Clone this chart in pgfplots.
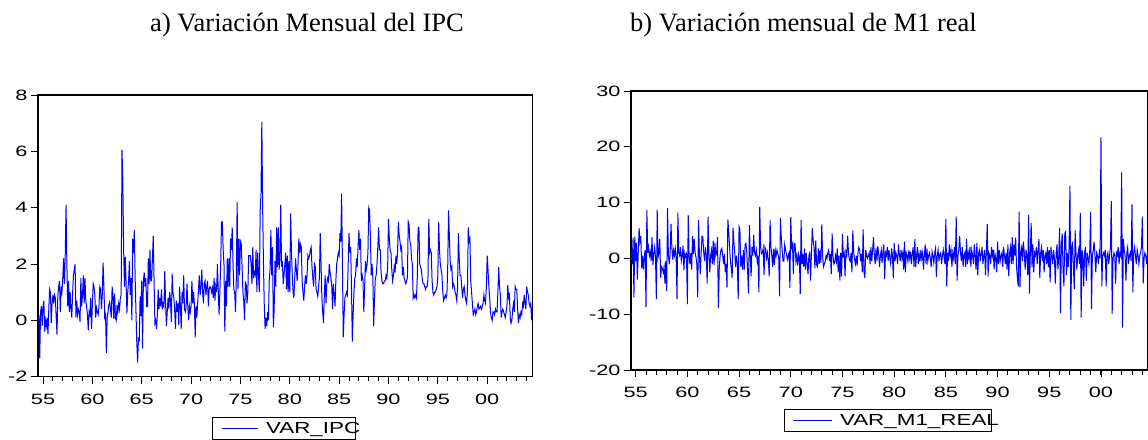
\documentclass[border=0pt]{standalone}
\usepackage{graphicx}
\usepackage{fontspec}
\setmainfont{Liberation Serif}
\newfontfamily\arial{Liberation Sans}
\usepackage{pgfplots}
\usepackage{pgfplotstable}
\pgfplotsset{compat=1.18}

% EViews graphs are stretched sideways in the source document
\newcommand\sx[1]{\scalebox{1.45}[1]{#1}}
\newcommand\sxl[1]{\scalebox{1.4}[1]{#1}}

\pgfplotsset{
  eviews/.style={
    scale only axis, anchor=south west,
    axis line style={black, line width=1.1pt},
    tick align=outside, xtick pos=left, ytick pos=left,
    tick style={black, line width=0.9pt},
    major tick length=7pt, minor tick length=4.5pt,
    xtick={1955,1960,...,2000},
    xticklabels={\sx{55},\sx{60},\sx{65},\sx{70},\sx{75},\sx{80},\sx{85},\sx{90},\sx{95},\sx{00}},
    minor xtick={1955,...,2004},
    xticklabel shift=6.7pt,
    tick label style={font=\fontsize{15}{17}\selectfont\arial},
    legend style={draw=black, line width=0.8pt, fill=white, anchor=north west,
      inner sep=0pt, outer sep=0pt, column sep=0pt,
      nodes={draw=none, inner sep=0pt, outer sep=0pt, text height=16.2pt, text depth=5.1pt,
        font=\fontsize{16}{18}\selectfont\arial}},
  },
  serie/.style={color={rgb,255:red,0;green,0;blue,255}, line width=1pt},
}

\begin{document}

% variacion mensual del IPC, ago-1954 .. ago-2004 (una fila por anio)
\pgfplotstableread[row sep=\\]{
v\\
0.2\\ -1.35\\ 0.3\\ 0.5\\ -0.2\\
0.5\\ 0.7\\ -0.4\\ 0.0\\ -0.2\\ 0.1\\ -0.5\\ 0.4\\ 1.1\\ 1.0\\ -0.1\\ 0.6\\
0.9\\ 0.6\\ 0.9\\ 0.8\\ 0.1\\ -0.5\\ 0.9\\ 1.2\\ 1.4\\ 0.3\\ 1.2\\ 1.0\\
1.5\\ 2.2\\ 1.3\\ 2.3\\ 4.1\\ 2.0\\ 0.5\\ 1.4\\ 0.3\\ 1.0\\ 0.4\\ 0.1\\
1.0\\ 1.6\\ 1.8\\ 2.0\\ 0.1\\ 0.7\\ 0.2\\ 0.4\\ 0.3\\ -0.05\\ 1.5\\ 0.5\\
0.9\\ 1.6\\ 0.6\\ 1.5\\ 0.7\\ 0.5\\ 0.2\\ -0.35\\ 0.3\\ 0.2\\ 0.8\\ -0.3\\
0.6\\ 1.3\\ 1.2\\ 0.9\\ 0.1\\ 0.45\\ 0.3\\ 0.2\\ 0.5\\ 1.2\\ 1.1\\ 0.4\\
0.9\\ 2.05\\ 1.2\\ 0.1\\ 0.2\\ -1.15\\ 0.1\\ 0.3\\ 0.55\\ 0.65\\ 0.4\\ 0.1\\
1.2\\ 0.9\\ 0.05\\ 0.95\\ 0.1\\ 0.0\\ 0.55\\ 0.3\\ 0.6\\ 0.4\\ 0.8\\ 0.9\\
6.05\\ 5.0\\ 2.5\\ 1.2\\ 2.25\\ 1.3\\ 0.25\\ 1.0\\ 1.4\\ 2.1\\ 0.9\\ 1.5\\
0.0\\ 2.9\\ 2.4\\ 3.2\\ 1.5\\ 0.3\\ -0.8\\ -1.5\\ -0.65\\ -0.7\\ 0.85\\ 0.15\\
1.4\\ -1.0\\ 1.4\\ 1.7\\ 1.2\\ 1.5\\ 0.5\\ 0.5\\ 2.2\\ 1.3\\ 2.5\\ 1.4\\
1.4\\ 2.2\\ 3.0\\ 1.4\\ -0.1\\ 0.0\\ -0.3\\ 0.2\\ 1.1\\ 0.4\\ 0.8\\ 0.5\\
1.1\\ 0.4\\ 0.6\\ 0.5\\ 1.75\\ 0.6\\ -0.2\\ 0.3\\ 0.8\\ 0.4\\ 1.0\\ 0.7\\
-0.05\\ 1.65\\ 1.0\\ 0.8\\ 0.4\\ -0.3\\ 0.7\\ 0.3\\ 0.6\\ -0.15\\ 1.2\\ 0.5\\
-0.3\\ 1.0\\ 0.6\\ 1.6\\ 0.4\\ 0.3\\ 0.5\\ 1.3\\ 0.5\\ 0.0\\ 0.5\\ 0.3\\
0.5\\ 1.4\\ 0.6\\ 1.0\\ 0.6\\ -0.6\\ 0.5\\ 0.1\\ 0.6\\ 1.1\\ 1.6\\ 0.9\\
1.2\\ 1.8\\ 1.0\\ 0.6\\ 1.3\\ 1.4\\ 0.9\\ 1.2\\ 1.4\\ 0.5\\ 1.1\\ 1.2\\
1.15\\ 1.0\\ 1.15\\ 0.8\\ 1.5\\ 0.7\\ 1.2\\ 1.0\\ 2.0\\ 1.1\\ 0.2\\ 1.0\\
2.0\\ 3.5\\ 3.5\\ 2.5\\ 2.0\\ -0.4\\ 1.4\\ 0.5\\ 2.2\\ 1.2\\ 2.2\\ 1.2\\
2.9\\ 2.5\\ 3.3\\ 2.0\\ 1.1\\ 1.0\\ 0.3\\ 1.5\\ 4.2\\ 1.1\\ 2.9\\ 1.6\\
2.8\\ 2.7\\ 1.9\\ 1.0\\ 0.7\\ 0.0\\ 1.35\\ 1.3\\ 0.6\\ 1.0\\ 2.3\\ 2.3\\
2.3\\ 2.0\\ 1.3\\ 2.6\\ 1.5\\ 1.7\\ 1.6\\ 2.5\\ 1.0\\ 2.4\\ 1.6\\ 1.0\\
3.9\\ 4.5\\ 7.05\\ 4.0\\ 2.0\\ 0.5\\ -0.3\\ 0.1\\ -0.2\\ 0.3\\ 0.0\\ 1.4\\
1.8\\ 3.2\\ 1.6\\ 2.6\\ -0.25\\ 0.4\\ 2.1\\ 1.2\\ 3.3\\ 1.9\\ 3.3\\ 1.8\\
2.2\\ 4.1\\ 1.9\\ 2.1\\ 1.3\\ 1.6\\ 2.0\\ 2.4\\ 1.1\\ 2.3\\ 1.0\\ 2.1\\
1.0\\ 3.8\\ 2.5\\ 1.6\\ 1.0\\ 0.8\\ 1.5\\ 2.2\\ 1.8\\ 1.4\\ 2.0\\ 2.9\\
2.4\\ 2.7\\ 2.6\\ 1.4\\ 1.0\\ 0.7\\ 1.2\\ 1.6\\ 1.3\\ 1.6\\ 2.3\\ 2.2\\
2.3\\ 2.5\\ 2.6\\ 1.9\\ 1.5\\ 1.2\\ 2.0\\ 1.9\\ 1.1\\ 1.0\\ 0.85\\ 1.2\\
1.5\\ 3.1\\ 2.0\\ 0.8\\ 0.3\\ -0.1\\ 0.9\\ 1.6\\ 0.6\\ 1.3\\ 1.5\\ 1.4\\
2.0\\ 1.7\\ 1.5\\ 1.2\\ 0.4\\ 1.3\\ 0.9\\ 0.5\\ 1.4\\ 2.0\\ 2.2\\ 2.4\\
2.3\\ 3.1\\ 2.8\\ 4.5\\ 2.0\\ -0.6\\ 0.2\\ 0.8\\ 0.9\\ 1.0\\ 0.9\\ 2.0\\
3.1\\ 2.4\\ 2.6\\ 1.2\\ -0.75\\ 0.2\\ 1.0\\ 1.5\\ 1.6\\ 2.2\\ 1.9\\ 2.6\\
3.2\\ 2.5\\ 2.9\\ 1.4\\ 1.6\\ 1.4\\ 0.3\\ 1.2\\ 2.1\\ 1.8\\ 2.0\\ 2.4\\
4.0\\ 3.9\\ 3.0\\ 1.6\\ 2.0\\ 1.5\\ -0.2\\ 0.8\\ 1.5\\ 1.6\\ 2.0\\ 2.6\\
3.3\\ 2.5\\ 2.5\\ 1.7\\ 1.4\\ 1.3\\ 1.3\\ 1.4\\ 1.4\\ 1.6\\ 1.5\\ 1.9\\
3.6\\ 2.9\\ 2.5\\ 2.4\\ 1.8\\ 1.4\\ 1.6\\ 1.9\\ 1.7\\ 2.3\\ 2.0\\ 2.4\\
3.5\\ 3.0\\ 2.8\\ 2.5\\ 2.6\\ 1.6\\ 1.9\\ 1.5\\ 1.4\\ 1.3\\ 1.4\\ 1.5\\
3.5\\ 3.4\\ 2.8\\ 2.7\\ 2.2\\ 2.0\\ 0.8\\ 0.9\\ 0.8\\ 0.9\\ 0.8\\ 1.5\\
3.3\\ 3.3\\ 2.0\\ 1.9\\ 1.8\\ 1.5\\ 1.3\\ 1.3\\ 1.2\\ 1.1\\ 1.2\\ 1.2\\
1.5\\ 3.6\\ 2.4\\ 2.5\\ 2.4\\ 1.4\\ 1.0\\ 0.9\\ 1.0\\ 1.0\\ 1.1\\ 1.2\\
1.6\\ 3.5\\ 2.5\\ 2.0\\ 1.8\\ 1.6\\ 1.0\\ 0.7\\ 0.8\\ 0.9\\ 0.8\\ 0.9\\
1.9\\ 3.9\\ 3.0\\ 2.1\\ 1.8\\ 1.9\\ 1.2\\ 1.3\\ 1.2\\ 1.0\\ 0.9\\ 0.7\\
1.2\\ 3.1\\ 2.2\\ 1.6\\ 1.6\\ 1.2\\ 0.8\\ 1.1\\ 1.2\\ 0.9\\ 0.7\\ 0.6\\
1.1\\ 3.3\\ 2.8\\ 2.9\\ 1.4\\ 1.0\\ 0.6\\ 0.2\\ 0.3\\ 0.4\\ 0.2\\ 0.3\\
0.5\\ 0.6\\ 0.4\\ 0.45\\ 0.5\\ 0.4\\ 0.5\\ 0.6\\ 0.9\\ 0.7\\ 0.6\\ 1.2\\
2.3\\ 1.8\\ 1.2\\ 0.8\\ 0.3\\ 0.1\\ 0.0\\ 0.3\\ 0.3\\ 0.2\\ 0.4\\ 0.3\\
0.3\\ 1.0\\ 1.9\\ 1.2\\ 0.9\\ 0.1\\ 0.3\\ 0.4\\ 0.3\\ 0.2\\ 0.1\\ 0.3\\
0.5\\ 1.25\\ 0.8\\ 0.9\\ 0.1\\ -0.1\\ 0.0\\ 0.4\\ 0.6\\ 0.3\\ 1.2\\ 1.1\\
1.1\\ 0.4\\ -0.1\\ 0.2\\ 0.1\\ 0.3\\ 0.2\\ 0.6\\ 0.5\\ 0.9\\ 0.6\\ 0.4\\
1.2\\ 1.0\\ 0.9\\ 0.6\\ 0.5\\ 0.6\\ 0.0\\ 0.5\\
}\ipc

% variacion mensual de M1 real, ago-1954 .. ago-2004
\pgfplotstableread[row sep=\\]{
v\\
1.5\\ -1.0\\ 3.7\\ -7.0\\ 3.9\\
-0.5\\ 2.8\\ -3.8\\ 1.0\\ 5.4\\ 3.0\\ 4.0\\ -1.8\\ 0.5\\ -2.0\\ 0.2\\ 1.5\\
-8.7\\ 8.7\\ 1.0\\ 2.0\\ 0.5\\ 1.2\\ -0.5\\ 3.8\\ -1.2\\ 0.8\\ 2.0\\ 0.4\\
-7.3\\ 8.7\\ 0.2\\ 1.0\\ 3.5\\ -3.5\\ -1.5\\ -1.8\\ -2.5\\ -1.5\\ -4.5\\ -0.5\\
-5.8\\ 9.0\\ 0.5\\ -1.0\\ 0.8\\ 6.2\\ 2.0\\ -0.2\\ 1.5\\ 0.5\\ 1.8\\ 0.2\\
-7.3\\ 8.2\\ 1.0\\ 0.5\\ 2.0\\ -0.5\\ 0.5\\ 2.3\\ -2.1\\ 1.0\\ 0.3\\ 0.8\\
-8.2\\ 7.8\\ 0.5\\ -1.0\\ 1.0\\ -2.0\\ 4.0\\ 0.8\\ 3.5\\ 1.0\\ 0.2\\ -1.0\\
-6.9\\ 6.9\\ 0.5\\ -2.8\\ 1.0\\ 4.0\\ 3.8\\ 1.0\\ -0.5\\ 2.0\\ 0.5\\ -4.5\\
7.5\\ 1.0\\ -2.5\\ 0.5\\ 1.5\\ -1.0\\ 3.2\\ -1.2\\ 2.8\\ 0.5\\ 1.0\\ 3.8\\
-8.9\\ -2.0\\ 0.5\\ 1.5\\ 1.8\\ 0.5\\ -1.0\\ 0.8\\ -2.5\\ -1.0\\ -5.2\\ 7.0\\
4.8\\ 2.0\\ -0.5\\ -1.8\\ -3.5\\ 5.5\\ 3.0\\ 1.0\\ -1.5\\ 0.5\\ -1.0\\ -7.3\\
5.7\\ 5.2\\ -1.5\\ 0.5\\ -2.0\\ 1.5\\ -2.0\\ 2.5\\ 2.7\\ 1.0\\ -2.5\\ -6.3\\
6.0\\ 0.5\\ -3.2\\ 2.0\\ 0.5\\ 4.2\\ 1.0\\ 0.5\\ 1.5\\ -0.5\\ 0.5\\ -6.1\\
9.2\\ 2.0\\ 0.8\\ 1.0\\ 1.8\\ -3.0\\ 2.0\\ 1.5\\ 0.0\\ 1.0\\ -0.5\\ -3.2\\
6.8\\ 2.0\\ 0.5\\ -1.5\\ 1.7\\ -1.2\\ 1.5\\ 0.5\\ 1.5\\ 0.8\\ 0.3\\ -6.8\\
7.2\\ 3.8\\ 1.5\\ -0.5\\ -0.5\\ 2.5\\ 1.5\\ 0.8\\ -0.2\\ 0.5\\ 1.0\\ -5.3\\
7.4\\ 2.0\\ 2.6\\ -2.8\\ 2.7\\ 2.6\\ -0.5\\ 0.5\\ -1.3\\ 0.8\\ 0.2\\ -6.4\\
6.9\\ -1.0\\ 0.8\\ -1.5\\ 1.8\\ -2.0\\ 1.0\\ -1.0\\ -2.8\\ 0.5\\ 1.0\\ -4.0\\
1.0\\ 5.4\\ 3.2\\ 2.0\\ -1.8\\ 3.2\\ -1.2\\ -1.5\\ 1.8\\ -1.0\\ 1.5\\ -0.8\\
6.1\\ 0.5\\ -1.5\\ -1.0\\ -0.5\\ 0.5\\ 0.0\\ 1.0\\ 1.5\\ -0.5\\ 0.8\\ -2.8\\
4.5\\ 0.5\\ -1.0\\ -0.8\\ 0.5\\ -0.5\\ 1.8\\ -2.5\\ 0.5\\ -4.0\\ 1.0\\ -3.2\\
4.4\\ 0.5\\ 1.0\\ -3.2\\ 1.2\\ 0.5\\ 4.1\\ 1.0\\ -0.2\\ -0.5\\ 1.0\\ -2.5\\
5.0\\ 1.2\\ -0.2\\ -1.0\\ 0.5\\ -1.3\\ 1.0\\ 2.0\\ 1.5\\ -0.5\\ 0.8\\ -2.5\\
5.2\\ -2.5\\ -3.5\\ 1.5\\ 0.5\\ 0.0\\ 0.5\\ 1.0\\ -1.0\\ 2.0\\ -0.5\\ 1.5\\
3.8\\ 0.5\\ -1.0\\ 1.8\\ -0.5\\ 2.2\\ 1.0\\ -1.5\\ 0.5\\ 1.5\\ -0.8\\ 1.2\\
2.5\\ -3.7\\ 1.0\\ 0.5\\ 2.0\\ -0.5\\ 1.5\\ 0.0\\ -1.0\\ 1.8\\ 0.5\\ -3.5\\
2.8\\ -0.5\\ 1.0\\ 0.5\\ -1.0\\ 2.5\\ 0.8\\ -0.5\\ 1.5\\ 0.0\\ 1.0\\ -2.0\\
3.0\\ -2.5\\ 1.0\\ 0.5\\ -0.5\\ 1.5\\ 0.0\\ 1.2\\ -1.0\\ 0.8\\ 2.0\\ -1.5\\
3.5\\ -1.5\\ 0.5\\ 2.0\\ -1.0\\ 0.8\\ -0.5\\ 1.5\\ 0.0\\ 1.0\\ -2.0\\ 0.5\\
2.5\\ -1.0\\ 1.8\\ -0.5\\ 0.5\\ 1.0\\ 0.0\\ -1.5\\ 1.2\\ 0.5\\ -0.8\\ 1.0\\
1.8\\ -3.3\\ 0.5\\ 1.5\\ -0.5\\ 0.8\\ 1.0\\ -1.0\\ 0.5\\ 1.5\\ 0.0\\ -1.0\\
7.1\\ -5.0\\ 1.0\\ -0.5\\ 2.5\\ 0.5\\ 1.5\\ -1.5\\ 1.0\\ 0.0\\ 2.0\\ -1.0\\
7.5\\ -4.0\\ 0.5\\ 1.5\\ 4.0\\ 1.0\\ -0.5\\ 2.0\\ -1.5\\ 0.5\\ 1.0\\ -1.5\\
3.5\\ -1.0\\ 1.0\\ 0.0\\ 2.0\\ -1.5\\ 1.5\\ 0.5\\ -1.0\\ 2.5\\ 0.5\\ -2.0\\
2.8\\ -3.0\\ 1.0\\ 1.5\\ -0.5\\ 0.8\\ 2.0\\ -1.0\\ 0.5\\ 1.5\\ -3.0\\ 1.0\\
6.2\\ -3.2\\ 1.0\\ 0.5\\ -1.0\\ 2.0\\ 0.5\\ 1.5\\ -2.0\\ 0.8\\ 0.0\\ -2.5\\
3.0\\ -1.0\\ 1.5\\ -0.5\\ 0.5\\ 1.0\\ -1.5\\ 2.0\\ 0.5\\ -1.0\\ 1.0\\ -2.0\\
2.5\\ -3.2\\ 1.0\\ 2.0\\ -1.0\\ 3.8\\ -1.0\\ 2.5\\ 0.5\\ 3.7\\ -1.5\\ -3.5\\
-5.0\\ 8.4\\ -5.2\\ 1.0\\ 2.0\\ -0.5\\ 3.0\\ 1.0\\ -2.0\\ 1.5\\ 0.5\\ -3.0\\
7.8\\ -6.3\\ 1.0\\ 6.3\\ -1.5\\ 2.5\\ -2.5\\ 1.0\\ 0.5\\ 2.0\\ -1.0\\ 1.5\\
3.5\\ -3.5\\ 1.0\\ 2.0\\ -0.5\\ 1.5\\ -2.5\\ 0.5\\ 1.0\\ -1.0\\ 2.0\\ -1.5\\
1.5\\ -4.3\\ 2.0\\ 0.5\\ -1.0\\ 1.5\\ 0.0\\ -4.5\\ 1.0\\ 2.5\\ -2.0\\ 0.5\\
5.5\\ -9.8\\ 2.0\\ 4.5\\ -2.0\\ -5.0\\ 4.5\\ 4.8\\ -3.0\\ 1.0\\ -1.5\\ 2.0\\
13.0\\ -11.0\\ 2.0\\ 3.0\\ -1.5\\ -5.5\\ 5.0\\ 1.0\\ -2.0\\ 0.5\\ 1.5\\ -1.0\\
8.1\\ -10.6\\ 1.5\\ 0.5\\ -5.0\\ 1.0\\ 2.0\\ -4.0\\ 1.0\\ 0.0\\ -1.0\\ 1.5\\
8.4\\ -9.1\\ 0.5\\ 1.5\\ 3.0\\ 0.5\\ -2.5\\ 1.0\\ 0.5\\ -1.0\\ 1.0\\ 0.0\\
21.7\\ -5.0\\ 0.5\\ 1.0\\ 0.5\\ 1.5\\ -5.0\\ 0.5\\ 1.0\\ -1.0\\ 0.5\\ 2.0\\
10.3\\ -10.0\\ 0.0\\ 1.0\\ 0.5\\ -4.5\\ 1.0\\ 0.5\\ 2.0\\ -1.0\\ 1.0\\ 0.5\\
15.4\\ -12.4\\ 3.5\\ 1.5\\ 0.5\\ -4.0\\ 1.0\\ 2.0\\ -1.0\\ 0.5\\ 1.0\\ -0.5\\
9.7\\ -6.1\\ 1.0\\ 2.0\\ 0.5\\ -1.0\\ 1.5\\ 0.5\\ -1.0\\ 0.5\\ 1.0\\ 2.0\\
7.5\\ -4.5\\ 0.0\\ 1.0\\ 0.5\\ -1.0\\ 1.0\\ 1.5\\
}\mone

\begin{tikzpicture}
  \node[anchor=base west, font=\fontsize{26.5}{30}\selectfont] at (146.7pt,-31.7pt) {a) Variación Mensual del IPC};
  \node[anchor=base west, font=\fontsize{26.5}{30}\selectfont] at (626.7pt,-31.7pt) {b) Variación mensual de M1 real};

  \begin{axis}[eviews,
      at={(38pt,-376.7pt)}, width=494.7pt, height=281.7pt,
      xmin=1954.49, xmax=2004.61, ymin=-2, ymax=8,
      ytick={-2,0,2,4,6,8},
      yticklabels={\sx{-2},\sx{0},\sx{2},\sx{4},\sx{6},\sx{8}},
      legend style={at={(0.3532,-0.1455)}},
      legend image code/.code={
        \path[draw=none, fill=none] (0pt,-10.65pt) rectangle (53.3pt,10.65pt);
        \draw[#1] (9pt,0pt) -- (45pt,0pt);
      },
    ]
    \addplot[serie] table[x expr={1954.5833+\coordindex/12}, y=v] {\ipc};
    \addlegendentry{\makebox[89pt][l]{\sxl{VAR\_IPC}}}
  \end{axis}

  \begin{axis}[eviews,
      at={(631pt,-370pt)}, width=516.7pt, height=279pt,
      xmin=1954.55, xmax=2004.52, ymin=-20, ymax=30,
      ytick={-20,-10,0,10,20,30},
      yticklabels={\sx{-20},\sx{-10},\sx{0},\sx{10},\sx{20},\sx{30}},
      legend style={at={(0.2961,-0.1423)}},
      legend image code/.code={
        \path[draw=none, fill=none] (0pt,-10.65pt) rectangle (56pt,10.65pt);
        \draw[#1] (9pt,0pt) -- (48pt,0pt);
      },
    ]
    \addplot[serie] table[x expr={1954.5833+\coordindex/12}, y=v] {\mone};
    \addlegendentry{\makebox[151pt][l]{\sxl{VAR\_M1\_REAL}}}
  \end{axis}

  \pgfresetboundingbox
  \useasboundingbox (0pt,0pt) rectangle (1148pt,-439pt);
\end{tikzpicture}

\end{document}
